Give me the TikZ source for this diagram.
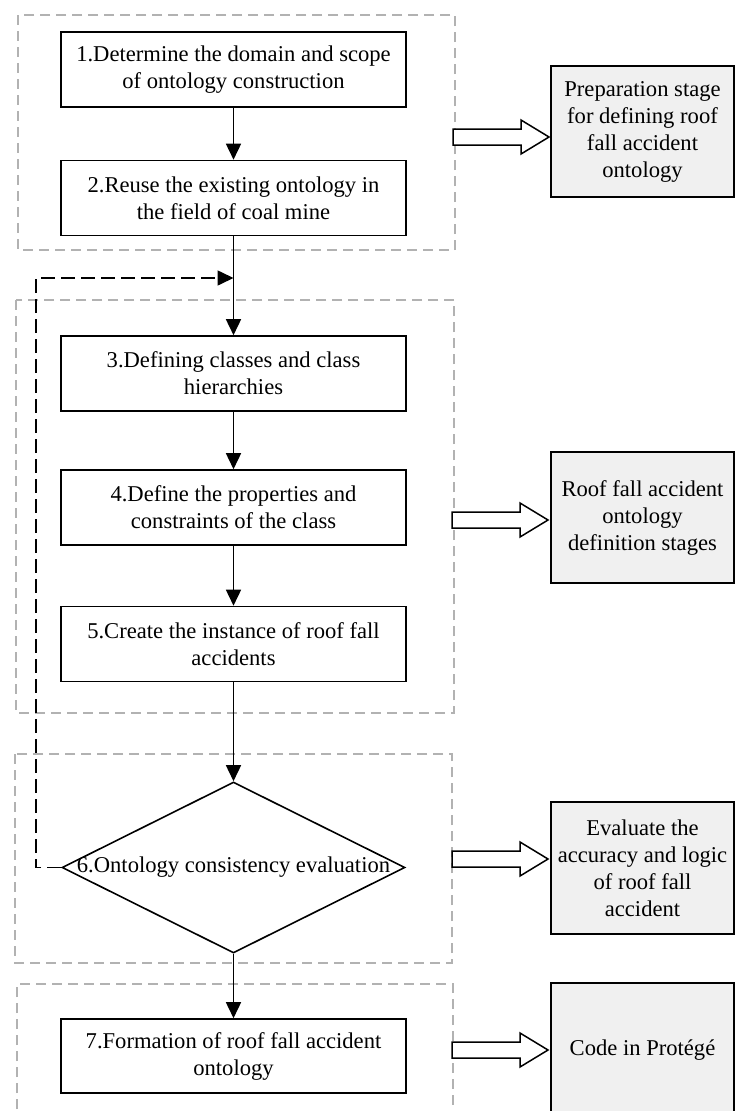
\documentclass[tikz,border=0pt]{standalone}
\usepackage{fontspec}
\setmainfont{Liberation Serif}
\usetikzlibrary{shapes.geometric,arrows.meta,calc}
\begin{document}
\begin{tikzpicture}[x=1pt,y=-1pt,
  font=\fontsize{22.6}{27}\selectfont,
  stepbox/.style={draw, line width=1.6pt, minimum width=345pt, minimum height=75pt,
    align=center, inner sep=0pt},
  notebox/.style={draw, line width=1.6pt, fill=gray!12, minimum width=183pt,
    minimum height=131pt, align=center, inner sep=0pt},
  group/.style={draw=gray!60, line width=1.3pt, dash pattern=on 10pt off 6pt},
  flow/.style={line width=1.6pt, -{Triangle[length=16pt,width=15pt]}},
  loopback/.style={line width=1.6pt, dash pattern=on 14pt off 6pt,
    -{Triangle[length=16pt,width=15pt]}},
  blockarr/.pic={
    \draw[line width=1.5pt, fill=white, line join=miter]
      (0,-8) -- (68,-8) -- (68,-17) -- (96,0) -- (68,17) -- (68,8) -- (0,8) -- cycle;
  },
  ]
\path[use as bounding box] (0,0) rectangle (735,1111);
\fill[white] (0,0) rectangle (735,1111);
\clip (0,0) rectangle (735,1111);

% stage frames
\draw[group] (18,15) rectangle (455,250);
\draw[group] (16,300) rectangle (454,713);
\draw[group] (15,754) rectangle (452,963);
\draw[group] (17,1125) -- (17,984) -- (453,984) -- (453,1125);

% process steps
\node[stepbox] (s1) at (233.5,69.5) {1.Determine the domain and scope\\of ontology construction};
\node[stepbox] (s2) at (233.5,198) {2.Reuse the existing ontology in\\the field of coal mine};
\node[stepbox] (s3) at (233.5,373.5) {3.Defining classes and class\\hierarchies};
\node[stepbox] (s4) at (233.5,507.5) {4.Define the properties and\\constraints of the class};
\node[stepbox] (s5) at (233.5,644) {5.Create the instance of roof fall\\accidents};
\node[diamond, draw, line width=1.6pt, minimum width=343pt, minimum height=171pt,
  inner sep=0pt] (d6) at (233.5,867.5) {};
\node[inner sep=0pt] (t6) at (d6.center) {6.Ontology consistency evaluation};
\node[stepbox, minimum height=74pt] (s7) at (233.5,1056) {7.Formation of roof fall accident\\ontology};

% stage descriptions
\node[notebox] (r1) at (642.5,131.5) {Preparation stage\\for defining roof\\fall accident\\ontology};
\node[notebox] (r2) at (642.5,517.5) {Roof fall accident\\ontology\\definition stages};
\node[notebox, minimum height=132pt] (r3) at (642.5,868) {Evaluate the\\accuracy and logic\\of roof fall\\accident};
\node[notebox, minimum height=134pt] (r4) at (642.5,1050) {Code in Protégé};

% flow
\coordinate (fb) at (233.5,278);
\coordinate (lp) at (36,278);
\draw[flow] (s1) -- (s2);
\draw[flow] (s2) -- (s3);
\draw[flow] (s3) -- (s4);
\draw[flow] (s4) -- (s5);
\draw[flow] (s5) -- (d6.north);
\draw[flow] (d6.south) -- (s7);
\draw[loopback] (d6.west) -| (lp) -- (fb);

% stage arrows
\pic at (453,137) {blockarr};
\pic at (452,520) {blockarr};
\pic at (452,859) {blockarr};
\pic at (452,1050) {blockarr};
\end{tikzpicture}
\end{document}
